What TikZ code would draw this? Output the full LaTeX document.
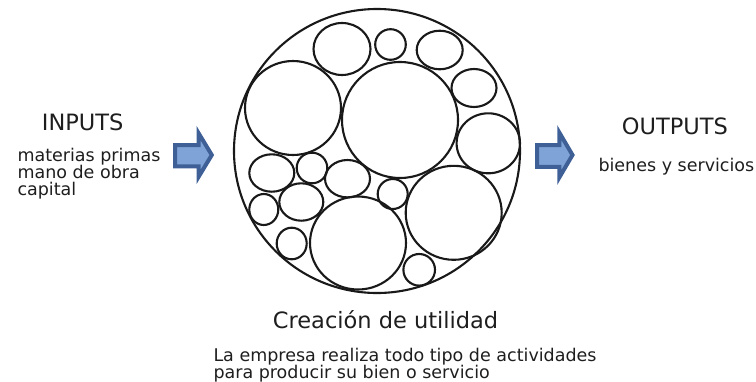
\documentclass[tikz,border=0pt]{standalone}
\usepackage{fontspec}
\setmainfont{DejaVu Sans}
\definecolor{arrdark}{HTML}{3E6096}
\definecolor{arrlight}{HTML}{7FA3D6}
\definecolor{txt}{HTML}{1E1E1E}
\tikzset{
  bubble/.style={draw=black!90, line width=2.1pt},
  bigarrow/.style={draw=arrdark, fill=arrlight, line width=4pt, line join=miter},
  headtxt/.style={anchor=base west, inner sep=0pt, text=txt, font=\fontsize{22.5}{25}\selectfont},
  bodytxt/.style={anchor=base west, inner sep=0pt, text=txt, font=\fontsize{17.5}{17}\selectfont},
}
\begin{document}
\begin{tikzpicture}[x=1pt,y=-1pt]
\useasboundingbox (0,0) rectangle (756,381);
% outer circle
\draw[bubble] (377,151) ellipse [x radius=143pt, y radius=142pt];
% inner circles
\draw[bubble] (342,49) ellipse [x radius=28.5pt, y radius=26pt];
\draw[bubble] (390.5,44.5) ellipse [x radius=15.3pt, y radius=15.3pt];
\draw[bubble] (439.7,50) ellipse [x radius=23pt, y radius=19.3pt];
\draw[bubble] (474,88) ellipse [x radius=22.5pt, y radius=19pt];
\draw[bubble] (293,108) ellipse [x radius=48pt, y radius=47pt];
\draw[bubble] (400,120) ellipse [x radius=58pt, y radius=58pt];
\draw[bubble] (488.3,143.3) ellipse [x radius=31.7pt, y radius=30pt];
\draw[bubble] (271.8,173) ellipse [x radius=22.5pt, y radius=18.7pt];
\draw[bubble] (312,168) ellipse [x radius=15.3pt, y radius=15.3pt];
\draw[bubble] (347.5,178.7) ellipse [x radius=22.5pt, y radius=18.7pt];
\draw[bubble] (392.7,194) ellipse [x radius=15pt, y radius=15pt];
\draw[bubble] (453.7,212.8) ellipse [x radius=48pt, y radius=47pt];
\draw[bubble] (263.8,209.5) ellipse [x radius=14.5pt, y radius=15.5pt];
\draw[bubble] (301.3,202) ellipse [x radius=22pt, y radius=18.7pt];
\draw[bubble] (291.7,243.5) ellipse [x radius=15pt, y radius=15.8pt];
\draw[bubble] (358,243) ellipse [x radius=48pt, y radius=46.5pt];
\draw[bubble] (419.2,269.8) ellipse [x radius=15.8pt, y radius=15.8pt];
% arrows
\draw[bigarrow] (175,145) -- (198.5,145) -- (198.5,133) -- (211.8,155) -- (198.5,177) -- (198.5,166.3) -- (175,166.3) -- cycle;
\draw[bigarrow] (537,145) -- (559.3,145) -- (559.3,132.5) -- (572.5,155) -- (559.3,177.5) -- (559.3,166.8) -- (537,166.8) -- cycle;
% texts
\node[headtxt] (inputs) at (41.7,130.7) {INPUTS};
\node[bodytxt] (in1) at (17.3,161.3) {materias primas};
\node[bodytxt] (in2) at (17.3,178.5) {mano de obra};
\node[bodytxt] (in3) at (17.3,195.3) {capital};
\node[headtxt] (outputs) at (621.7,134.3) {OUTPUTS};
\node[bodytxt] (out1) at (598.3,171) {bienes y servicios};
\node[headtxt] (crea) at (272.7,328.3) {Creación de utilidad};
\node[bodytxt] (desc1) at (213.3,361.7) {La empresa realiza todo tipo de actividades};
\node[bodytxt] (desc2) at (213.3,378) {para producir su bien o servicio};
\end{tikzpicture}
\end{document}
